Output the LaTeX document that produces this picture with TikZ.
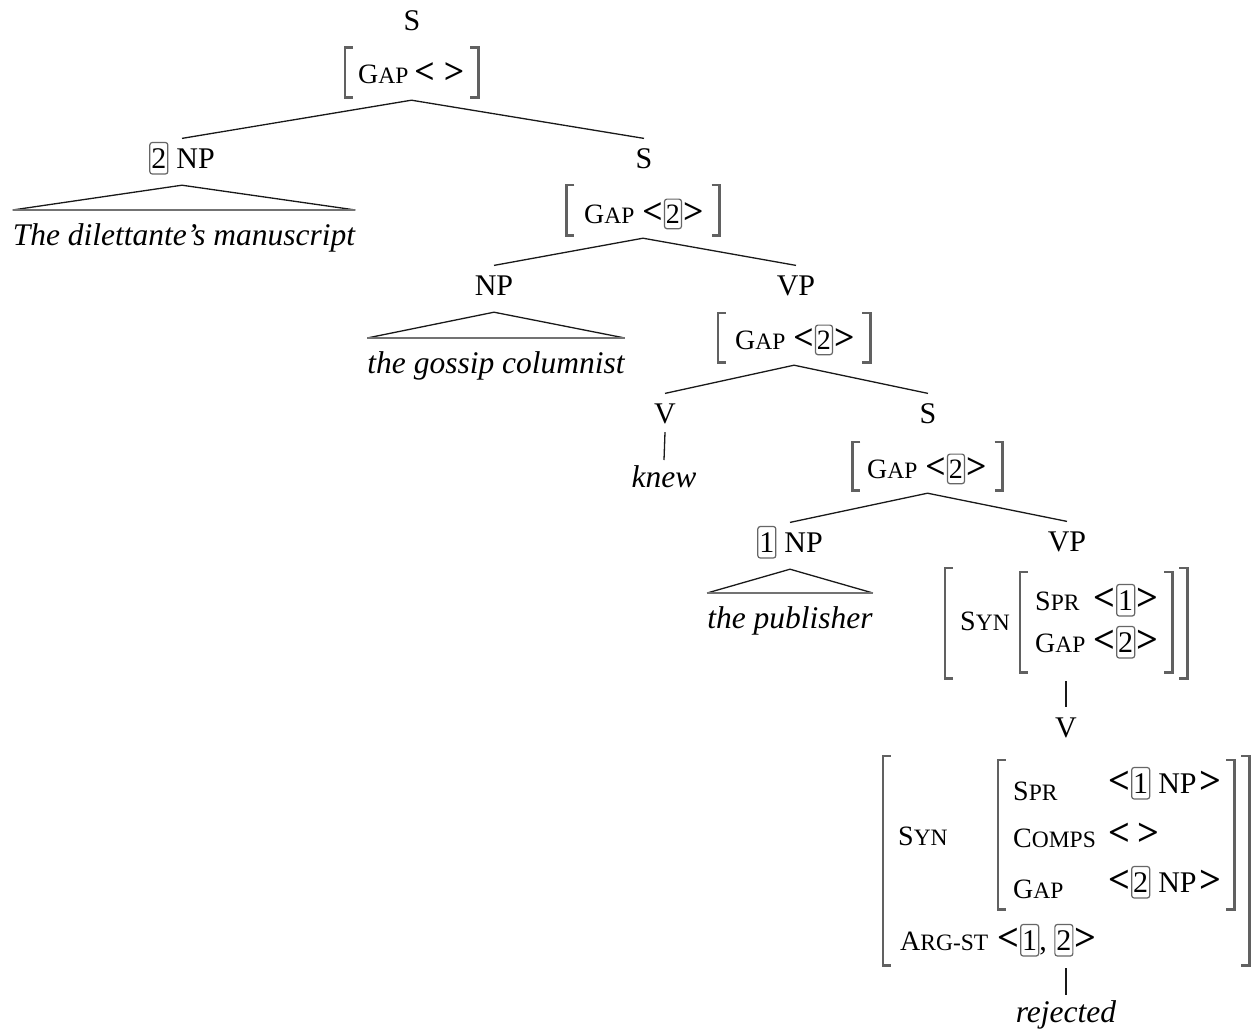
\documentclass[tikz,border=0pt]{standalone}
\usepackage{graphicx}
\usepackage{fontspec}
\setmainfont{Liberation Serif}
\newcommand\scap[2]{#1{\fontsize{23.5}{24}\selectfont #2}}
\newcommand\avl{\scalebox{1.28}{\textbf{<}}}
\newcommand\avr{\scalebox{1.28}{\textbf{>}}}
\newcommand\tg[1]{\tikz[baseline=(tgx.base)]\node[draw=black!60,line width=1.2pt,rounded corners=2.5pt,inner xsep=1.5pt,inner ysep=1.5pt,text height=.8em,text depth=.15em,minimum width=0pt,minimum height=0pt](tgx){#1};}
\newcommand\avmbrackets[1]{%
  \draw[brk] ([xshift=8pt,yshift=-3pt]#1.north west) -- ([yshift=-3pt]#1.north west) -- ([yshift=3pt]#1.south west) -- ([xshift=8pt,yshift=3pt]#1.south west);
  \draw[brk] ([xshift=-8pt,yshift=-3pt]#1.north east) -- ([yshift=-3pt]#1.north east) -- ([yshift=3pt]#1.south east) -- ([xshift=-8pt,yshift=3pt]#1.south east);}
\tikzset{
  lab/.style={font=\fontsize{30}{36}\selectfont, inner xsep=2pt, inner ysep=9pt, text height=20.4pt, text depth=0pt, anchor=base},
  leaf/.style={font=\fontsize{31.5}{36}\selectfont\itshape, inner xsep=0pt, inner ysep=13pt, text height=22pt, text depth=7pt, anchor=north},
  leafv/.style={leaf, inner ysep=5pt},
  feat/.style={font=\fontsize{28}{30}\selectfont, anchor=base west, inner sep=0pt},
  val/.style={font=\fontsize{30}{32}\selectfont, anchor=base west, inner sep=0pt},
  avm/.style={draw=none, inner sep=0pt},
  brk/.style={draw=black!62, line width=2.6pt, line cap=butt, line join=miter},
  edge/.style={draw=black!90, line width=1.3pt},
  tri/.style={draw=black!90, line width=1.3pt},
  tribase/.style={draw=black!55, line width=2.6pt},
}
\begin{document}
\begin{tikzpicture}[x=1pt,y=-1pt]
\useasboundingbox[fill=white] (0,0) rectangle (1253,1033);

% ---- top S
\node[lab] (s1) at (412,31) {S};
\node[avm, minimum width=133pt, minimum height=55pt] (a1) at (411.5,72.5) {};
\avmbrackets{a1}
\node[feat] (a1r) at (358,84) {\scap{G}{AP}\hspace{6pt}\avl\hspace{9pt}\avr};

% ---- 2 NP
\node[lab] (np1) at (182,168) {\tg{2}\hspace{8pt}NP};
\node[leaf] (l1) at (184,210) {The dilettante’s manuscript};
\draw[tri] (l1.north west) -- ([yshift=-8pt]np1.south) -- (l1.north east);
\draw[tribase] (l1.north west) -- (l1.north east);

% ---- S (2)
\node[lab] (s2) at (644,168) {S};
\node[avm, minimum width=153pt, minimum height=56pt] (a2) at (643,210) {};
\avmbrackets{a2}
\node[feat] (a2r) at (584,223) {\scap{G}{AP}\hspace{8pt}\avl\hspace{1pt}\tg{2}\hspace{1pt}\avr};

\draw[edge] (np1.north) -- (a1.south) -- (s2.north);

% ---- NP the gossip columnist
\node[lab] (np3) at (494,295) {NP};
\node[leaf] (l3) at (496,338) {the gossip columnist};
\draw[tri] (l3.north west) -- ([yshift=-8pt]np3.south) -- (l3.north east);
\draw[tribase] (l3.north west) -- (l3.north east);

% ---- VP
\node[lab] (vp3) at (796,295) {VP};
\node[avm, minimum width=152pt, minimum height=55pt] (a3) at (794,337.5) {};
\avmbrackets{a3}
\node[feat] (a3r) at (735,349) {\scap{G}{AP}\hspace{8pt}\avl\hspace{1pt}\tg{2}\hspace{1pt}\avr};

\draw[edge] (np3.north) -- (a2.south) -- (vp3.north);

% ---- V knew
\node[lab] (v3) at (665,423) {V};
\node[leafv] (knew) at (664,460) {knew};
\draw[edge] (v3.south) -- (knew.north);

% ---- S (4)
\node[lab] (s4) at (928,423) {S};
\node[avm, minimum width=150pt, minimum height=54pt] (a4) at (927.5,466) {};
\avmbrackets{a4}
\node[feat] (a4r) at (867,478) {\scap{G}{AP}\hspace{8pt}\avl\hspace{1pt}\tg{2}\hspace{1pt}\avr};

\draw[edge] (v3.north) -- (a3.south) -- (s4.north);

% ---- 1 NP the publisher
\node[lab] (np5) at (790,552) {\tg{1}\hspace{8pt}NP};
\node[leaf] (l5) at (790,593) {the publisher};
\draw[tri] (l5.north west) -- ([yshift=-8pt]np5.south) -- (l5.north east);
\draw[tribase] (l5.north west) -- (l5.north east);

% ---- VP (5)
\node[lab] (vp5) at (1067,551) {VP};
\node[avm, minimum width=242pt, minimum height=116pt] (a5) at (1066,623) {};
\node[avm, minimum width=152pt, minimum height=106pt] (a5i) at (1096,622) {};
\avmbrackets{a5}
\avmbrackets{a5i}
\node[feat] (a5syn) at (960,630) {\scap{S}{YN}};
\node[feat] (a5spr) at (1035,610) {\scap{S}{PR}};
\node[val] (a5sprv) at (1093,610) {\avl\hspace{1pt}\tg{1}\hspace{1pt}\avr};
\node[feat] (a5gap) at (1035,652) {\scap{G}{AP}};
\node[val] (a5gapv) at (1093,652) {\avl\hspace{1pt}\tg{2}\hspace{1pt}\avr};

\draw[edge] (np5.north) -- (a4.south) -- (vp5.north);

% ---- V (6)
\node[lab] (v6) at (1066,737) {V};
\draw[edge] (a5.south) -- (v6.north);
\node[avm, minimum width=366pt, minimum height=215pt] (a6) at (1066,860.5) {};
\node[avm, minimum width=236pt, minimum height=155pt] (a6i) at (1116,834.5) {};
\avmbrackets{a6}
\avmbrackets{a6i}
\node[feat] (a6syn) at (898,845) {\scap{S}{YN}};
\node[feat] (a6spr) at (1013,800) {\scap{S}{PR}};
\node[val] (a6sprv) at (1108,793) {\avl\hspace{1pt}\tg{1}\hspace{8pt}NP\hspace{3pt}\avr};
\node[feat] (a6comps) at (1013,847) {\scap{C}{OMPS}};
\node[val] (a6compsv) at (1108,845) {\avl\hspace{7pt}\avr};
\node[feat] (a6gap) at (1013,898) {\scap{G}{AP}};
\node[val] (a6gapv) at (1108,892) {\avl\hspace{1pt}\tg{2}\hspace{8pt}NP\hspace{3pt}\avr};
\node[feat] (a6arg) at (900,950) {\scap{A}{RG-ST}};
\node[val] (a6argv) at (997,950) {\avl\hspace{1pt}\tg{1}, \tg{2}\hspace{1pt}\avr};

% ---- rejected
\node[leafv] (rej) at (1066,995) {rejected};
\draw[edge] (a6.south) -- (rej.north);
\end{tikzpicture}
\end{document}
